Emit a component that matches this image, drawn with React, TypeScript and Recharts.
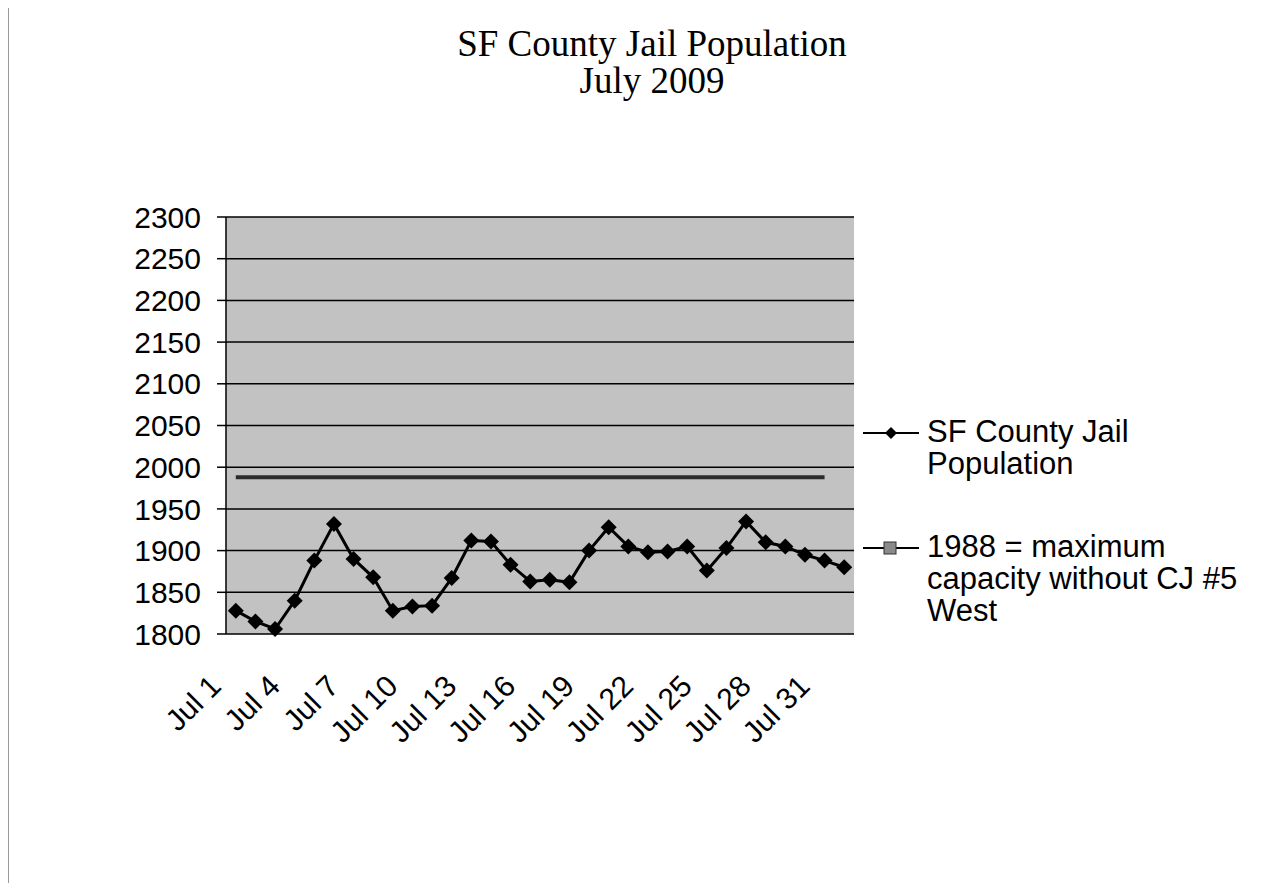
import React from "react";
import { LineChart, Line, XAxis, YAxis, CartesianGrid } from "recharts";

// daily counts, July 1 - August 1 2009
const dates = [
  "Jul 1", "Jul 2", "Jul 3", "Jul 4", "Jul 5", "Jul 6", "Jul 7", "Jul 8",
  "Jul 9", "Jul 10", "Jul 11", "Jul 12", "Jul 13", "Jul 14", "Jul 15", "Jul 16",
  "Jul 17", "Jul 18", "Jul 19", "Jul 20", "Jul 21", "Jul 22", "Jul 23", "Jul 24",
  "Jul 25", "Jul 26", "Jul 27", "Jul 28", "Jul 29", "Jul 30", "Jul 31", "Aug 1",
];

const population = [
  1828, 1815, 1806, 1840, 1888, 1932, 1890, 1868,
  1828, 1833, 1834, 1867, 1912, 1911, 1883, 1863,
  1865, 1862, 1900, 1928, 1905, 1898, 1899, 1905,
  1876, 1903, 1935, 1910, 1905, 1895, 1888, 1880,
];

const capacity = [
  1988, 1988, 1988, 1988, 1988, 1988, 1988, 1988,
  1988, 1988, 1988, 1988, 1988, 1988, 1988, 1988,
  1988, 1988, 1988, 1988, 1988, 1988, 1988, 1988,
  1988, 1988, 1988, 1988, 1988, 1988, 1988, null,
];

const yTicks = [1800, 1850, 1900, 1950, 2000, 2050, 2100, 2150, 2200, 2250, 2300];

const titleLines = ["SF County Jail Population", "July 2009"];
const popName = ["SF County Jail", "Population"];
const capName = ["1988 = maximum", "capacity without CJ #5", "West"];

const labelEvery = 3;

const rows = dates.map((date, i) => ({
  x: i + 0.5,
  date,
  population: population[i],
  capacity: capacity[i],
}));

const boundaryTicks = dates.map((_, i) => i).concat(dates.length);
const labelTicks = dates
  .map((_, i) => i + 0.5)
  .filter((_, i) => i % labelEvery === 0);

const SANS = "'Liberation Sans', Arial, sans-serif";
const SERIF = "'Liberation Serif', 'Times New Roman', serif";

function Diamond(props: any) {
  const { cx, cy, index } = props;
  if (cx == null || cy == null) return null;
  const r = 8;
  return (
    <polygon
      key={`d-${index}`}
      points={`${cx},${cy - r} ${cx + r},${cy} ${cx},${cy + r} ${cx - r},${cy}`}
      fill="#000"
    />
  );
}

function DateTick(props: any) {
  const { x, y, payload } = props;
  const idx = Math.round(payload.value - 0.5);
  const ax = x - 13;
  const ay = y + 54;
  return (
    <text
      x={ax}
      y={ay}
      textAnchor="end"
      transform={`rotate(-45, ${ax}, ${ay})`}
      fontSize={30}
      fontFamily={SANS}
      fill="#000"
    >
      {dates[idx]}
    </text>
  );
}

function LegendLine({ square }: { square?: boolean }) {
  return (
    <svg width={56} height={32} style={{ display: "block" }}>
      <line x1={0} y1={17} x2={56} y2={17} stroke="#000" strokeWidth={2} />
      {square ? (
        <rect x={21} y={11} width={12} height={12} fill="#8a8a8a" stroke="#333" strokeWidth={1} />
      ) : (
        <polygon points="28,11 34,17 28,23 22,17" fill="#000" />
      )}
    </svg>
  );
}

export default function App() {
  const lineStyle = { fontFamily: SANS, fontSize: 31, lineHeight: "32px", color: "#000" };
  return (
    <div style={{ position: "relative", width: 1254, height: 883, marginTop: -8, background: "#fff" }}>
      <div
        style={{
          position: "absolute",
          left: 0,
          top: 2,
          width: 1253,
          height: 900,
          borderLeft: "1px solid #9a9a9a",
          borderTop: "1px solid #9a9a9a",
          borderRight: "1px solid #9a9a9a",
        }}
      />
      {titleLines.map((t, i) => (
        <div
          key={t}
          style={{
            position: "absolute",
            left: 0,
            top: 25 + i * 37,
            width: 1288,
            textAlign: "center",
            fontFamily: SERIF,
            fontSize: 37,
            lineHeight: "37px",
            color: "#000",
            whiteSpace: "nowrap",
          }}
        >
          {t}
        </div>
      ))}

      <div style={{ position: "absolute", left: 0, top: 0 }}>
        <LineChart
          width={1250}
          height={880}
          data={rows}
          margin={{ top: 217, right: 404, bottom: 146, left: 118 }}
        >
          <CartesianGrid
            xAxisId="ticks"
            yAxisId="left"
            vertical={false}
            stroke="#000"
            strokeWidth={1.5}
            fill="#c2c2c2"
            fillOpacity={1}
          />
          <XAxis
            xAxisId="ticks"
            dataKey="x"
            type="number"
            domain={[0, dates.length]}
            ticks={boundaryTicks}
            interval={0}
            tick={false}
            height={0}
            tickSize={9}
            stroke="#000"
            strokeWidth={1.5}
          />
          <XAxis
            xAxisId="labels"
            dataKey="x"
            type="number"
            domain={[0, dates.length]}
            ticks={labelTicks}
            interval={0}
            tick={<DateTick />}
            height={100}
            axisLine={false}
            tickLine={false}
            tickSize={0}
            tickMargin={0}
          />
          <YAxis
            yAxisId="left"
            domain={[1800, 2300]}
            ticks={yTicks}
            interval={0}
            width={100}
            tickSize={9}
            tickMargin={16}
            stroke="#000"
            strokeWidth={1.5}
            tick={{ fontSize: 30, fill: "#000", fontFamily: SANS }}
          />
          <YAxis
            yAxisId="frame"
            orientation="right"
            domain={[1800, 2300]}
            ticks={yTicks}
            width={0}
            tick={false}
            tickLine={false}
            stroke="#000"
            strokeWidth={1.5}
          />
          <Line
            xAxisId="labels"
            yAxisId="left"
            dataKey="capacity"
            stroke="#2b2b2b"
            strokeWidth={4}
            dot={false}
            isAnimationActive={false}
          />
          <Line
            xAxisId="ticks"
            yAxisId="left"
            dataKey="population"
            stroke="#000"
            strokeWidth={3}
            dot={Diamond}
            isAnimationActive={false}
          />
        </LineChart>
      </div>

      <div style={{ position: "absolute", left: 855, top: 416, display: "flex" }}>
        <LegendLine />
        <div style={{ ...lineStyle, marginLeft: 8 }}>
          {popName.map((t) => (
            <div key={t}>{t}</div>
          ))}
        </div>
      </div>
      <div style={{ position: "absolute", left: 855, top: 531, display: "flex" }}>
        <LegendLine square />
        <div style={{ ...lineStyle, marginLeft: 8 }}>
          {capName.map((t) => (
            <div key={t}>{t}</div>
          ))}
        </div>
      </div>
    </div>
  );
}
